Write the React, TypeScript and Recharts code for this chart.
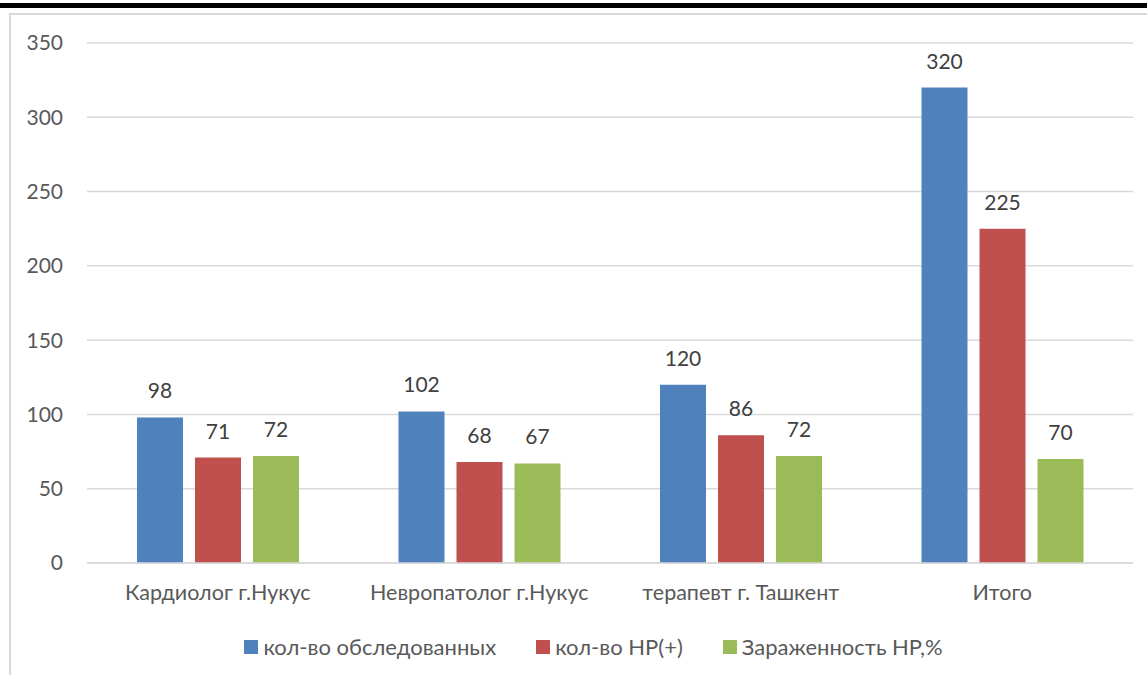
import React from 'react';
import { BarChart, Bar, XAxis, YAxis, CartesianGrid, LabelList } from 'recharts';

const categories = ['Кардиолог г.Нукус', 'Невропатолог г.Нукус', 'терапевт г. Ташкент', 'Итого'];
const examined = [98, 102, 120, 320];
const hpPositive = [71, 68, 86, 225];
const infection = [72, 67, 72, 70];
const yTicks = [0, 50, 100, 150, 200, 250, 300, 350];

const seriesKeys = ['examined', 'hpPositive', 'infection'];
const seriesNames = ['кол-во обследованных', 'кол-во HP(+)', 'Зараженность HP,%'];
const seriesColors = ['#4f81bd', '#c0504d', '#9bbb59'];

const data = categories.map((name, i) => ({
    name,
    examined: examined[i],
    hpPositive: hpPositive[i],
    infection: infection[i],
}));

const FONT = 'Lato, "Noto Sans", sans-serif';

const App: React.FC = () => {
    return (
        <div style={{ position: 'absolute', left: 0, top: 0, width: 1147, height: 675, background: '#fff', overflow: 'hidden' }}>
            <div style={{ position: 'absolute', left: 0, top: 3, width: 1147, height: 5, background: '#000' }} />
            <div
                style={{
                    position: 'absolute',
                    left: 9,
                    top: 13,
                    width: 1160,
                    height: 700,
                    border: '2px solid #d9d9d9',
                    boxSizing: 'border-box',
                }}
            />
            <div style={{ position: 'absolute', left: 0, top: 0 }}>
                <BarChart
                    width={1147}
                    height={675}
                    data={data}
                    margin={{ top: 43, right: 14, left: 0, bottom: 0 }}
                    barGap={12}
                    barSize={46}
                >
                    <CartesianGrid vertical={false} stroke="#d9d9d9" strokeWidth={1.5} />
                    <XAxis
                        dataKey="name"
                        axisLine={{ stroke: '#d9d9d9', strokeWidth: 1.5 }}
                        tickLine={false}
                        tickMargin={16}
                        height={112}
                        tick={{ fill: '#595959', fontSize: 21.5, fontFamily: FONT }}
                        interval={0}
                    />
                    <YAxis
                        domain={[0, 350]}
                        ticks={yTicks}
                        width={87}
                        axisLine={false}
                        tickLine={false}
                        tickMargin={18}
                        tick={{ fill: '#595959', fontSize: 21, fontFamily: FONT }}
                        interval={0}
                    />
                    {seriesKeys.map((key, i) => (
                        <Bar key={key} dataKey={key} name={seriesNames[i]} fill={seriesColors[i]} isAnimationActive={false}>
                            <LabelList dataKey={key} position="top" offset={19} fill="#404040" fontSize={21} fontFamily={FONT} />
                        </Bar>
                    ))}
                </BarChart>
            </div>
            <div
                style={{
                    position: 'absolute',
                    left: 20,
                    top: 634,
                    width: 1147,
                    display: 'flex',
                    justifyContent: 'center',
                    fontFamily: FONT,
                    fontSize: 22,
                    color: '#595959',
                    lineHeight: '26px',
                }}
            >
                {seriesNames.map((name, i) => (
                    <div key={name} style={{ display: 'flex', alignItems: 'center', marginRight: i < seriesNames.length - 1 ? 40 : 0 }}>
                        <span style={{ width: 14, height: 14, background: seriesColors[i], display: 'inline-block', marginRight: 5 }} />
                        <span>{name}</span>
                    </div>
                ))}
            </div>
        </div>
    );
};

export default App;
